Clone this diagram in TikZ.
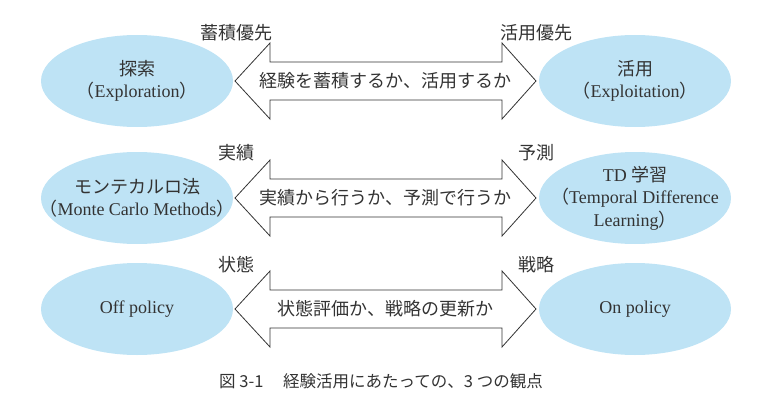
\documentclass[tikz,border=0pt]{standalone}
\usepackage{fontspec}
\setmainfont{Liberation Serif}
\newfontfamily\jp{Noto Sans CJK JP}
\usepackage{tikz}
\usetikzlibrary{shapes.geometric}
\definecolor{ovalblue}{HTML}{BEE3F5}
\definecolor{inkgray}{HTML}{333333}

\begin{document}
\begin{tikzpicture}[x=1pt,y=-1pt,
    oval/.style={ellipse,fill=ovalblue,minimum width=192pt,minimum height=92pt,
        inner xsep=-45pt,inner ysep=-20pt,align=center,text=inkgray,
        font=\fontsize{18}{22.5}\selectfont},
    tag/.style={text=inkgray,font=\jp\fontsize{18}{20}\selectfont},
    arrowtext/.style={text=inkgray,font=\jp\fontsize{18}{20}\selectfont},
    outline/.style={draw=inkgray,line width=0.8pt,line join=miter}]
    \useasboundingbox (0,0) rectangle (768,404);
    \foreach \y in {81,198,309}
        \draw[outline] (235,\y) -- (270,\y-38) -- (270,\y-19) -- (502,\y-19) -- (502,\y-38)
            -- (536,\y) -- (502,\y+38) -- (502,\y+19) -- (270,\y+19) -- (270,\y+38) -- cycle;
    \node[oval] (explore) at (137,81) {{\jp 探索}\\{\jp （}Exploration{\jp ）}};
    \node[oval] (exploit) at (635,81) {{\jp 活用}\\{\jp （}Exploitation{\jp ）}};
    \node[oval] (mc) at (137,198) {{\jp モンテカルロ法}\\{\jp （}Monte Carlo Methods{\jp ）}};
    \node[oval] (td) at (635,198) {TD {\jp 学習}\\{\jp （}Temporal Difference\\Learning{\jp ）}};
    \node[oval] (off) at (137,309) {Off policy};
    \node[oval] (on) at (635,309) {On policy};
    \node[arrowtext] (q1) at (385.5,81) {経験を蓄積するか、活用するか};
    \node[arrowtext] (q2) at (385.5,198) {実績から行うか、予測で行うか};
    \node[arrowtext] (q3) at (385.5,309) {状態評価か、戦略の更新か};
    \node[tag] (store) at (236,33) {蓄積優先};
    \node[tag] (use) at (536,33) {活用優先};
    \node[tag] (past) at (236,153) {実績};
    \node[tag] (pred) at (536,153) {予測};
    \node[tag] (state) at (236,265) {状態};
    \node[tag] (policy) at (536,265) {戦略};
    \node[text=inkgray,font=\jp\fontsize{16.5}{18}\selectfont] (caption) at (381,381)
        {図 3-1\hspace{1.2em}経験活用にあたっての、3 つの観点};
\end{tikzpicture}
\end{document}
